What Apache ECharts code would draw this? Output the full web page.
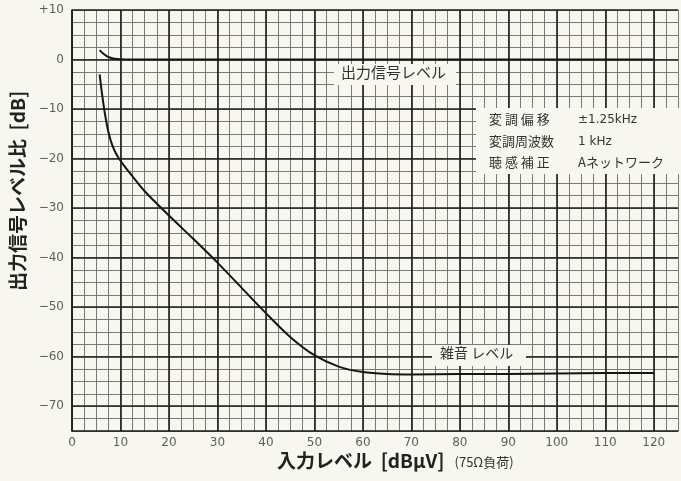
<!DOCTYPE html>
<html>
<head>
<meta charset="utf-8">
<script src="https://cdn.jsdelivr.net/npm/echarts@6/dist/echarts.min.js"></script>
<style>
html,body{margin:0;padding:0;background:#f7f6ef;}
#c{width:681px;height:481px;}
</style>
</head>
<body>
<div id="c"></div>
<script>
// Output signal level curve (input dBµV -> dB)
const outX = [5.7, 6.3, 7.0, 7.8, 8.8, 10, 12, 15, 20, 30, 40, 60, 80, 100, 120];
const outY = [1.9, 1.3, 0.8, 0.4, 0.15, 0.05, 0, 0, 0, 0, 0, 0, 0, 0, 0];
// Noise level curve
const noiseX = [5.7, 6.2, 6.8, 7.5, 8.3, 9.3, 10.5, 12, 15, 20, 25, 30, 35, 40, 45, 50, 55, 60, 65, 70, 80, 90, 100, 110, 120];
const noiseY = [-3, -7, -11, -14.6, -17.3, -19.4, -21.1, -23, -26.6, -31.5, -36.2, -41, -46.1, -51.2, -56, -59.7, -62, -63.1, -63.5, -63.6, -63.5, -63.5, -63.4, -63.3, -63.3];
// Major grid values (ticks with labels)
const majorX = [0, 10, 20, 30, 40, 50, 60, 70, 80, 90, 100, 110, 120];
const majorY = [10, 0, -10, -20, -30, -40, -50, -60, -70];

const chart = echarts.init(document.getElementById('c'), null, {renderer: 'canvas'});
const lbl = {color: '#5e5e5e', fontSize: 12, fontFamily: 'DejaVu Sans'};
const jp = 'Noto Sans CJK JP';

const option = {
  backgroundColor: '#f7f6ef',
  animation: false,
  grid: {left: 72, top: 10, right: -3.5, bottom: 50, containLabel: false},
  xAxis: {
    type: 'value', min: 0, max: 125, interval: 2.5,
    axisLine: {show: true, onZero: false, lineStyle: {color: '#1a1a1a', width: 1.5}},
    axisTick: {show: false},
    axisLabel: Object.assign({
      margin: 6,
      formatter: v => (majorX.indexOf(v) >= 0 ? String(v) : '')
    }, lbl),
    splitLine: {show: true, lineStyle: {color: '#7a7a7a', width: 1}}
  },
  yAxis: {
    type: 'value', min: -75, max: 10, interval: 2.5,
    axisLine: {show: true, onZero: false, lineStyle: {color: '#1a1a1a', width: 1.5}},
    axisTick: {show: false},
    axisLabel: Object.assign({
      margin: 8,
      formatter: v => {
        if (majorY.indexOf(v) < 0) return '';
        if (v > 0) return '+' + v;
        if (v < 0) return '−' + (-v);
        return '0';
      }
    }, lbl),
    splitLine: {show: true, lineStyle: {color: '#7a7a7a', width: 1}}
  },
  series: [
    {
      type: 'line', data: [], z: 1, silent: true,
      markLine: {
        silent: true, symbol: 'none', animation: false,
        label: {show: false},
        lineStyle: {color: '#1e1e1e', width: 1.6, type: 'solid'},
        data: majorX.map(v => ({xAxis: v})).concat(majorY.map(v => ({yAxis: v})))
      }
    },
    {
      name: '出力信号レベル', type: 'line', z: 5, symbol: 'none', smooth: 0.3,
      lineStyle: {color: '#151515', width: 2},
      data: outX.map((x, i) => [x, outY[i]])
    },
    {
      name: '雑音レベル', type: 'line', z: 5, symbol: 'none', smooth: 0.3,
      lineStyle: {color: '#151515', width: 2},
      data: noiseX.map((x, i) => [x, noiseY[i]])
    }
  ],
  graphic: [
    {type: 'rect', z: 20, shape: {x: 334, y: 64, width: 122, height: 21}, style: {fill: '#f7f6ef'}},
    {type: 'text', z: 21, left: 341, top: 65, style: {text: '出力信号レベル', fontSize: 15, fill: '#333', fontFamily: jp}},
    {type: 'rect', z: 20, shape: {x: 432, y: 345, width: 94, height: 21}, style: {fill: '#f7f6ef'}},
    {type: 'text', z: 21, left: 440, top: 346, style: {text: '雑音 レベル', fontSize: 14, fill: '#333', fontFamily: jp}},
    {type: 'rect', z: 20, shape: {x: 476, y: 108, width: 210, height: 66}, style: {fill: '#f7f6ef'}},
    {type: 'text', z: 21, left: 489, top: 113, style: {text: '変 調 偏 移', fontSize: 13, fill: '#333', fontFamily: jp}},
    {type: 'text', z: 21, left: 578, top: 114, style: {text: '±1.25kHz', fontSize: 12, fill: '#333', fontFamily: 'DejaVu Sans'}},
    {type: 'text', z: 21, left: 489, top: 135, style: {text: '変調周波数', fontSize: 13, fill: '#333', fontFamily: jp}},
    {type: 'text', z: 21, left: 578, top: 136, style: {text: '1 kHz', fontSize: 12, fill: '#333', fontFamily: 'DejaVu Sans'}},
    {type: 'text', z: 21, left: 489, top: 156, style: {text: '聴 感 補 正', fontSize: 13, fill: '#333', fontFamily: jp}},
    {type: 'text', z: 21, left: 578, top: 156, style: {text: 'Aネットワーク', fontSize: 13, fill: '#333', fontFamily: jp}},
    {
      type: 'text', z: 21, x: 18, y: 191, rotation: Math.PI / 2,
      style: {text: '出力信号レベル比  [dB]', fontSize: 19, fill: '#222', fontFamily: jp, fontWeight: 'bold', align: 'center', verticalAlign: 'middle'}
    },
    {
      type: 'text', z: 21, left: 277, top: 451,
      style: {
        rich: {
          a: {fontSize: 19, fill: '#222', fontFamily: jp, fontWeight: 'bold'},
          b: {fontSize: 13, fill: '#333', fontFamily: jp, padding: [3, 0, 0, 10]}
        },
        text: '{a|入力レベル  [dBμV]}{b|(75Ω負荷)}'
      }
    }
  ]
};
chart.setOption(option);
</script>
</body>
</html>
